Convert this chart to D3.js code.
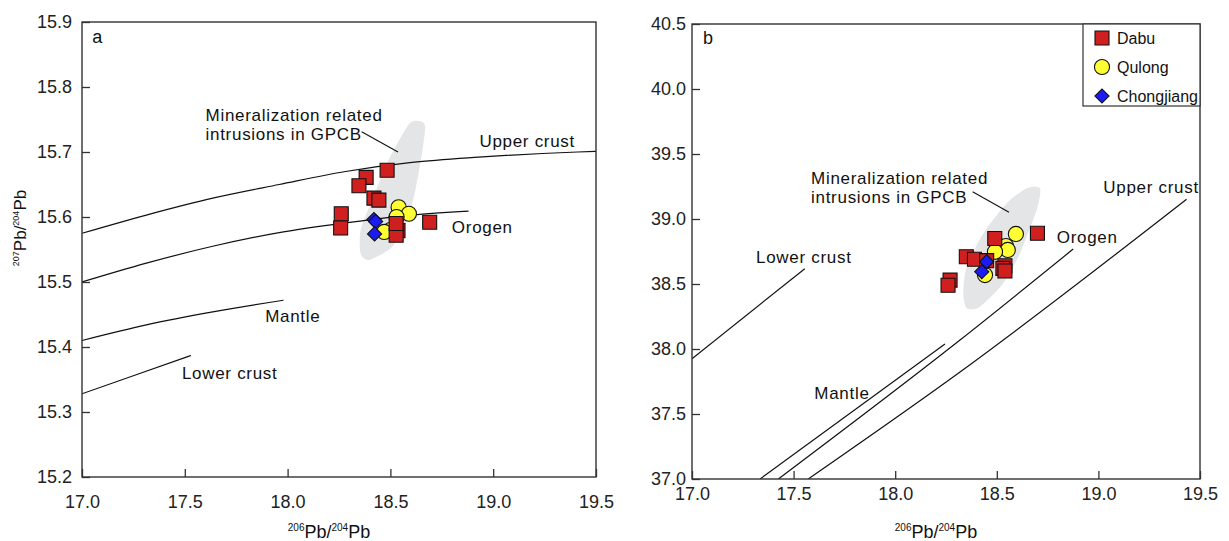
<!DOCTYPE html>
<html>
<head>
<meta charset="utf-8">
<script src="https://cdn.jsdelivr.net/npm/d3@7"></script>
<style>
  body { margin: 0; background: #fff; }
  svg text { font-family: "Liberation Sans", Arial, sans-serif; }
</style>
</head>
<body>
<div id="chart"></div>
<script>
// ---- data ----
const xTicks = [17.0, 17.5, 18.0, 18.5, 19.0, 19.5];
const yTicksA = [15.2, 15.3, 15.4, 15.5, 15.6, 15.7, 15.8, 15.9];
const yTicksB = [37.0, 37.5, 38.0, 38.5, 39.0, 39.5, 40.0, 40.5];

// panel a: 207Pb/204Pb vs 206Pb/204Pb
const upperCrustA = [[17.0, 15.575], [17.313, 15.603], [17.636, 15.629], [17.959, 15.650], [18.282, 15.670], [18.605, 15.684], [18.928, 15.692], [19.41, 15.700], [19.5, 15.701]];
const orogenA = [[17.0, 15.500], [17.313, 15.529], [17.636, 15.555], [17.959, 15.576], [18.282, 15.591], [18.605, 15.603], [18.88, 15.609]];
const mantleA = [[17.0, 15.410], [17.313, 15.434], [17.636, 15.454], [17.98, 15.472]];
const lowerCrustA = [[17.0, 15.328], [17.26, 15.357], [17.53, 15.387]];
const fieldA = [[18.621, 15.748], [18.669, 15.739], [18.637, 15.667], [18.589, 15.600], [18.508, 15.554], [18.396, 15.534], [18.355, 15.544], [18.355, 15.580], [18.411, 15.626], [18.492, 15.688], [18.581, 15.739]];
const dabuA = [[18.484, 15.672], [18.382, 15.661], [18.347, 15.648], [18.420, 15.629], [18.444, 15.626], [18.261, 15.605], [18.258, 15.583], [18.537, 15.579], [18.528, 15.572], [18.528, 15.590], [18.691, 15.592]];
const qulongA = [[18.54, 15.615], [18.59, 15.605], [18.53, 15.600], [18.50, 15.580], [18.47, 15.577]];
const chongjiangA = [[18.42, 15.596], [18.428, 15.593], [18.423, 15.574]];

// panel b: 208Pb/204Pb vs 206Pb/204Pb
const upperCrustB = [[17.572, 37.0], [18.319, 37.823], [19.434, 39.152]];
const orogenB = [[17.425, 37.0], [18.319, 38.069], [18.876, 38.769]];
const mantleB = [[17.335, 37.0], [18.245, 38.038]];
const lowerCrustB = [[17.0, 37.925], [17.555, 38.618]];
const fieldB = [[18.713, 39.236], [18.696, 39.069], [18.614, 38.736], [18.532, 38.505], [18.417, 38.325], [18.352, 38.313], [18.335, 38.428], [18.352, 38.633], [18.434, 38.890], [18.549, 39.121], [18.647, 39.236]];
const dabuB = [[18.49, 38.85], [18.70, 38.89], [18.35, 38.71], [18.39, 38.69], [18.45, 38.68], [18.54, 38.64], [18.53, 38.62], [18.54, 38.60], [18.27, 38.53], [18.26, 38.49]];
const qulongB = [[18.594, 38.885], [18.545, 38.792], [18.554, 38.762], [18.491, 38.748], [18.442, 38.569]];
const chongjiangB = [[18.450, 38.672], [18.426, 38.595]];

const seriesNames = ["Dabu", "Qulong", "Chongjiang"];
const colors = {Dabu: "#cf1f1f", Qulong: "#ffff33", Chongjiang: "#1b1bf2"};

const svg = d3.select("#chart").append("svg")
    .attr("width", 1229)
    .attr("height", 541);

function marker(name) {
    if (name === "Dabu") return d3.symbol(d3.symbolSquare, 196)();
    if (name === "Qulong") return d3.symbol(d3.symbolCircle, 180)();
    return d3.symbol(d3.symbolSquare, 100)();
}

function drawPanel(p) {
    const x = d3.scaleLinear().domain([17.0, 19.5]).range([p.left, p.right]);
    const y = d3.scaleLinear().domain(p.yDomain).range([p.bottom, p.top]);
    const g = svg.append("g");

    const clipId = "clip-" + p.tag;
    g.append("clipPath").attr("id", clipId)
        .append("rect")
        .attr("x", p.left).attr("y", p.top)
        .attr("width", p.right - p.left).attr("height", p.bottom - p.top);

    const inner = g.append("g").attr("clip-path", `url(#${clipId})`);

    // grey field of mineralization related intrusions
    inner.append("path")
        .datum(p.field)
        .attr("d", d3.line().x(d => x(d[0])).y(d => y(d[1])).curve(d3.curveCardinalClosed.tension(0.3)))
        .attr("fill", "#e4e5e6");

    // growth curves
    const line = d3.line().x(d => x(d[0])).y(d => y(d[1])).curve(d3.curveMonotoneX);
    inner.selectAll(".curve")
        .data(p.curves)
        .join("path")
        .attr("class", "curve")
        .attr("d", d => line(d))
        .attr("fill", "none")
        .attr("stroke", "#111")
        .attr("stroke-width", 1.2);

    // samples
    p.series.forEach(s => {
        g.selectAll(".m-" + s.name)
            .data(s.values)
            .join("path")
            .attr("class", "m-" + s.name)
            .attr("d", marker(s.name))
            .attr("transform", d => `translate(${x(d[0])},${y(d[1])})` + (s.name === "Chongjiang" ? " rotate(45)" : ""))
            .attr("fill", colors[s.name])
            .attr("stroke", "#111")
            .attr("stroke-width", 1.1);
    });

    // axes with inward ticks
    const xAxisG = g.append("g")
        .attr("transform", `translate(0,${p.bottom})`)
        .call(d3.axisBottom(x).tickValues(xTicks).tickSize(-8).tickPadding(p.xPad).tickFormat(d3.format(".1f")));
    const yAxisG = g.append("g")
        .attr("transform", `translate(${p.left},0)`)
        .call(d3.axisLeft(y).tickValues(p.yTicks).tickSize(-8).tickPadding(p.yPad).tickFormat(d3.format(".1f")));
    [xAxisG, yAxisG].forEach(a => {
        a.select(".domain").remove();
        a.selectAll("line").attr("stroke", "#333").attr("stroke-width", 1.3);
        a.selectAll("text").attr("font-size", 18).attr("fill", "#222")
            .attr("font-family", "'Liberation Sans', Arial, sans-serif");
    });

    // frame
    g.append("rect")
        .attr("x", p.left).attr("y", p.top)
        .attr("width", p.right - p.left).attr("height", p.bottom - p.top)
        .attr("fill", "none")
        .attr("stroke", "#333")
        .attr("stroke-width", 1.4);

    // annotations
    const ann = g.append("g").attr("font-size", 17).attr("fill", "#111").attr("letter-spacing", "0.7px");
    p.labels.forEach(l => {
        ann.append("text").attr("x", x(l.at[0])).attr("y", y(l.at[1])).text(l.text);
    });
    g.append("line")
        .attr("x1", x(p.leader[0][0])).attr("y1", y(p.leader[0][1]))
        .attr("x2", x(p.leader[1][0])).attr("y2", y(p.leader[1][1]))
        .attr("stroke", "#111").attr("stroke-width", 1.1);

    g.append("text")
        .attr("x", x(p.tagAt[0])).attr("y", y(p.tagAt[1]))
        .attr("font-size", 18).attr("fill", "#111")
        .text(p.tag);

    // x title
    const xt = g.append("text")
        .attr("x", (p.left + p.right) / 2 - 10).attr("y", 538)
        .attr("text-anchor", "middle").attr("fill", "#111");
    xt.append("tspan").attr("font-size", 10).attr("dy", -7).text("206");
    xt.append("tspan").attr("font-size", 18).attr("dy", 7).text("Pb/");
    xt.append("tspan").attr("font-size", 10).attr("dy", -7).text("204");
    xt.append("tspan").attr("font-size", 18).attr("dy", 7).text("Pb");

    return {x, y};
}

drawPanel({
    tag: "a", tagAt: [17.05, 15.868],
    left: 82, right: 596, top: 22, bottom: 477,
    yDomain: [15.2, 15.9], yTicks: yTicksA, xPad: 18, yPad: 10,
    curves: [upperCrustA, orogenA, mantleA, lowerCrustA],
    field: fieldA,
    series: [
        {name: "Qulong", values: qulongA},
        {name: "Dabu", values: dabuA},
        {name: "Chongjiang", values: chongjiangA}
    ],
    labels: [
        {text: "Mineralization related", at: [17.601, 15.748]},
        {text: "intrusions in GPCB", at: [17.601, 15.718]},
        {text: "Upper crust", at: [18.933, 15.707]},
        {text: "Orogen", at: [18.799, 15.575]},
        {text: "Mantle", at: [17.891, 15.438]},
        {text: "Lower crust", at: [17.486, 15.351]}
    ],
    leader: [[18.360, 15.731], [18.537, 15.700]]
});

drawPanel({
    tag: "b", tagAt: [17.054, 40.346],
    left: 692, right: 1200, top: 24, bottom: 479,
    yDomain: [37.0, 40.5], yTicks: yTicksB, xPad: 8, yPad: 6,
    curves: [upperCrustB, orogenB, mantleB, lowerCrustB],
    field: fieldB,
    series: [
        {name: "Qulong", values: qulongB},
        {name: "Dabu", values: dabuB},
        {name: "Chongjiang", values: chongjiangB}
    ],
    labels: [
        {text: "Mineralization related", at: [17.586, 39.267]},
        {text: "intrusions in GPCB", at: [17.586, 39.121]},
        {text: "Upper crust", at: [19.024, 39.202]},
        {text: "Orogen", at: [18.795, 38.818]},
        {text: "Lower crust", at: [17.315, 38.659]},
        {text: "Mantle", at: [17.602, 37.613]}
    ],
    leader: [[18.381, 39.210], [18.560, 39.052]]
});

// y title for panel a
const yt = svg.append("text")
    .attr("transform", "translate(26,228) rotate(-90)")
    .attr("text-anchor", "middle").attr("fill", "#111");
yt.append("tspan").attr("font-size", 9).attr("dy", -7).text("207");
yt.append("tspan").attr("font-size", 17).attr("dy", 7).text("Pb/");
yt.append("tspan").attr("font-size", 9).attr("dy", -7).text("204");
yt.append("tspan").attr("font-size", 17).attr("dy", 7).text("Pb");

// legend (panel b)
const legend = svg.append("g");
legend.append("rect")
    .attr("x", 1083).attr("y", 24).attr("width", 117).attr("height", 82)
    .attr("fill", "#fff").attr("stroke", "#333").attr("stroke-width", 1.2);
const legendY = d3.scalePoint().domain(seriesNames).range([38, 96]);
const items = legend.selectAll(".leg").data(seriesNames).join("g")
    .attr("class", "leg")
    .attr("transform", d => `translate(1102,${legendY(d)})`);
items.append("path")
    .attr("d", d => marker(d))
    .attr("transform", d => d === "Chongjiang" ? "rotate(45)" : null)
    .attr("fill", d => colors[d])
    .attr("stroke", "#111").attr("stroke-width", 1.1);
items.append("text")
    .attr("x", 15).attr("y", 5.5)
    .attr("font-size", 16)
    .attr("font-family", "Lato, 'Open Sans', sans-serif")
    .attr("fill", "#111")
    .text(d => d);
</script>
</body>
</html>
